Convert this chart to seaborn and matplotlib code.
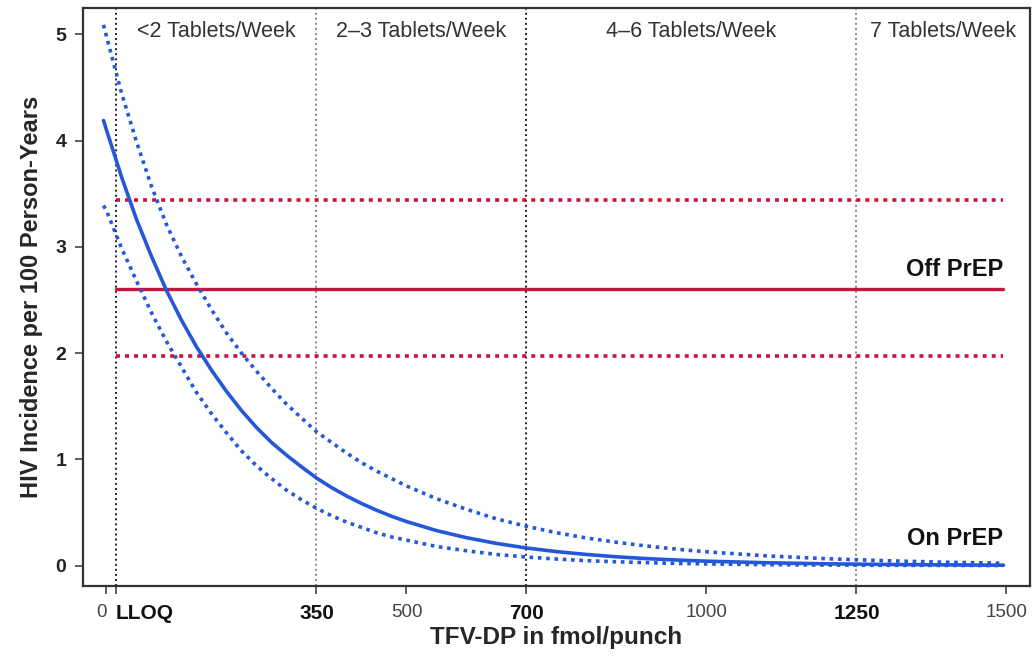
import matplotlib
matplotlib.use("Agg")
import matplotlib.pyplot as plt
import seaborn as sns
import pandas as pd

# ---- data ----
dose = [-5, 0, 25, 50, 75, 100, 125, 150, 175, 200, 225, 250, 275, 300, 325,
        350, 375, 400, 425, 450, 475, 500, 550, 600, 650, 700, 750, 800, 850,
        900, 950, 1000, 1100, 1200, 1300, 1400, 1495]
incidence = [4.19, 4.10, 3.66, 3.26, 2.91, 2.59, 2.31, 2.06, 1.84, 1.64, 1.46,
             1.30, 1.16, 1.04, 0.93, 0.825, 0.735, 0.656, 0.585, 0.522, 0.465,
             0.415, 0.33, 0.263, 0.209, 0.166, 0.132, 0.105, 0.083, 0.066,
             0.053, 0.042, 0.027, 0.017, 0.011, 0.007, 0.004]
ci_upper = [5.09, 4.98, 4.45, 3.99, 3.57, 3.21, 2.91, 2.65, 2.41, 2.19, 2.00,
            1.83, 1.67, 1.52, 1.39, 1.26, 1.16, 1.06, 0.97, 0.89, 0.82, 0.75,
            0.63, 0.53, 0.44, 0.37, 0.31, 0.26, 0.22, 0.185, 0.155, 0.13,
            0.092, 0.065, 0.046, 0.032, 0.023]
ci_lower = [3.39, 3.34, 2.99, 2.68, 2.38, 2.11, 1.87, 1.63, 1.43, 1.25, 1.08,
            0.94, 0.82, 0.71, 0.62, 0.54, 0.47, 0.41, 0.36, 0.31, 0.27, 0.24,
            0.18, 0.14, 0.105, 0.081, 0.062, 0.047, 0.036, 0.028, 0.021, 0.016,
            0.009, 0.0055, 0.003, 0.002, 0.001]

off_prep_rate = 2.60
off_prep_ci = [1.97, 3.44]
off_prep_span = [16, 1495]

cutpoints = [16, 350, 700, 1250]
cut_dark = [True, False, True, False]
region_labels = ["<2 Tablets/Week", "2\u20133 Tablets/Week",
                 "4\u20136 Tablets/Week", "7 Tablets/Week"]
region_centers = [183, 525, 975, 1395]

xtick_vals = [0, 16, 350, 500, 700, 1000, 1250, 1500]
xtick_labels = ["0", "LLOQ", "350", "500", "700", "1000", "1250", "1500"]
xtick_bold = [False, True, True, False, True, False, True, False]
ytick_vals = [0, 1, 2, 3, 4, 5]

# ---- style ----
sns.set_style("ticks")
plt.rcParams["font.family"] = ["Liberation Sans", "DejaVu Sans"]

BLUE = "#2458d8"
RED = "#c8143c"

fig = plt.figure(figsize=(10.35, 6.56), dpi=100)
ax = fig.add_axes([0.080, 0.107, 0.915, 0.881])

df = pd.DataFrame({"dose": dose, "inc": incidence, "up": ci_upper, "lo": ci_lower})

# vertical cut lines
for xc, dark in zip(cutpoints, cut_dark):
    ax.axvline(xc, color="#222222" if dark else "#888888",
               linestyle=(0, (1, 1.6)), linewidth=1.4, zorder=1)

# off-PrEP reference
sns.lineplot(x=off_prep_span, y=[off_prep_rate] * 2, ax=ax, color=RED,
             linewidth=2.4, estimator=None, zorder=3)
for v in off_prep_ci:
    sns.lineplot(x=off_prep_span, y=[v] * 2, ax=ax, color=RED,
                 linewidth=2.6, linestyle=(0, (1.1, 1.4)), estimator=None, zorder=3)

# on-PrEP curve and CI
sns.lineplot(data=df, x="dose", y="up", ax=ax, color=BLUE, linewidth=2.6,
             linestyle=(0, (1.0, 1.3)), estimator=None, sort=True, zorder=4)
sns.lineplot(data=df, x="dose", y="lo", ax=ax, color=BLUE, linewidth=2.6,
             linestyle=(0, (1.0, 1.3)), estimator=None, sort=True, zorder=4)
sns.lineplot(data=df, x="dose", y="inc", ax=ax, color=BLUE, linewidth=2.6,
             estimator=None, sort=True, zorder=5)

# labels
ax.text(1495, 2.68, "Off PrEP", ha="right", va="bottom", fontsize=17,
        fontweight="bold", color="#111111")
ax.text(1495, 0.15, "On PrEP", ha="right", va="bottom", fontsize=17,
        fontweight="bold", color="#111111")
for lab, xc in zip(region_labels, region_centers):
    ax.text(xc, 5.03, lab, ha="center", va="center", fontsize=15.5,
            color="#333333")

ax.set_xlim(-39.5, 1539)
ax.set_ylim(-0.19, 5.25)
ax.set_xticks(xtick_vals)
ax.set_xticklabels(xtick_labels)
for lbl, b in zip(ax.get_xticklabels(), xtick_bold):
    lbl.set_fontsize(15 if b else 13.5)
    lbl.set_fontweight("bold" if b else "normal")
    lbl.set_color("#111111" if b else "#444444")
    if lbl.get_text() == "LLOQ":
        lbl.set_ha("left")
    if lbl.get_text() == "0":
        lbl.set_ha("right")
ax.set_yticks(ytick_vals)
ax.set_yticklabels([str(v) for v in ytick_vals], fontsize=14, fontweight="bold",
                   color="#222222")
ax.tick_params(axis="both", direction="out", length=6, width=1.2, color="#444444")
ax.tick_params(axis="x", pad=7)
ax.tick_params(axis="y", pad=6)

ax.set_xlabel("TFV-DP in fmol/punch", fontsize=17.5, fontweight="bold", labelpad=2)
ax.set_ylabel("HIV Incidence per 100 Person-Years", fontsize=17, fontweight="bold",
              labelpad=9)

for s in ax.spines.values():
    s.set_color("#333333")
    s.set_linewidth(1.6)

fig.savefig("out.png", dpi=100)
